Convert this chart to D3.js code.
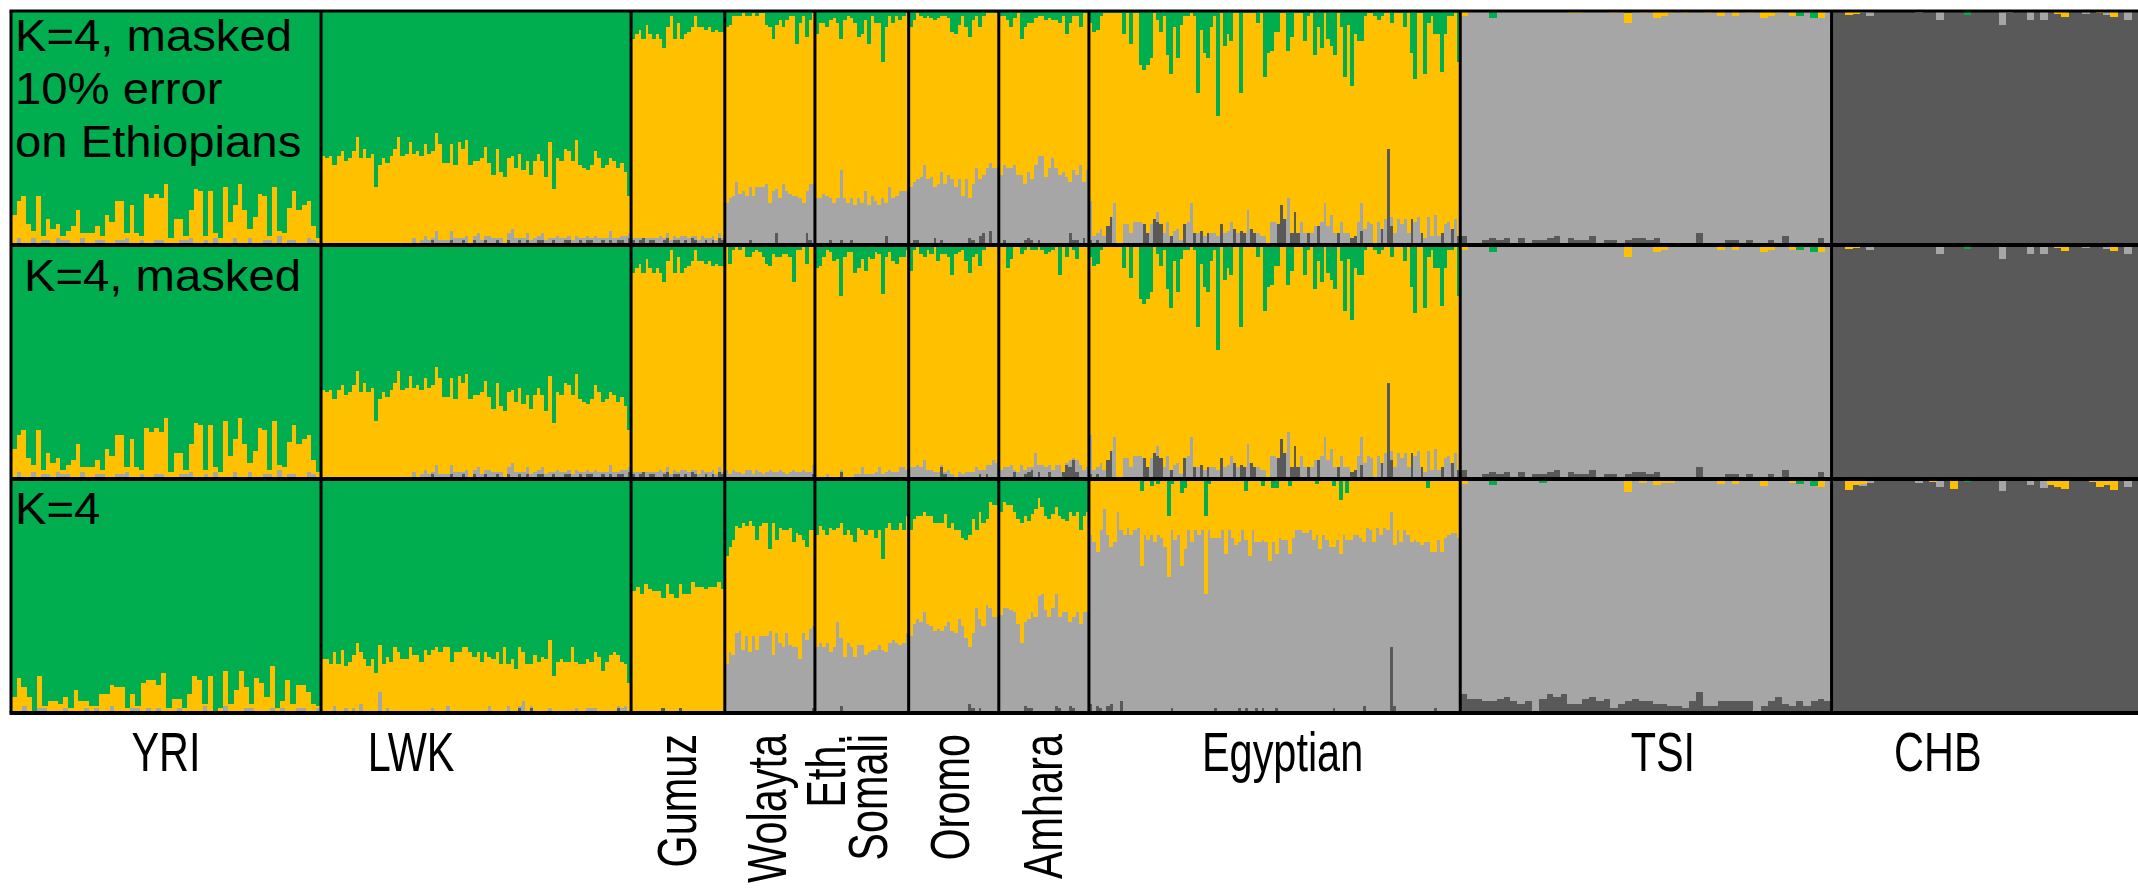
<!DOCTYPE html>
<html>
<head>
<meta charset="utf-8">
<script src="https://d3js.org/d3.v7.min.js"></script>
<style>
body { margin: 0; background: #fff; }
svg { display: block; }
text { font-family: "Liberation Sans", Arial, Helvetica, sans-serif; fill: #000; }
</style>
</head>
<body>
<svg id="chart"></svg>
<script>
// populations, sample sizes (set the width of each block) and row titles
var popNames = ["YRI", "LWK", "Gumuz", "Wolayta", "Eth.|Somali", "Oromo", "Amhara", "Egyptian", "TSI", "CHB"];
var popSizes = [86, 86, 26, 25, 26, 25, 25, 103, 103, 85];
var rotatedPops = [false, false, true, true, true, true, true, false, false, false];
var rowTitles = [["K=4, masked", "10% error", "on Ethiopians"], ["K=4, masked"], ["K=4"]];

// ancestry proportions in percent, one value per plotted individual
// rows 1+2 share values where the two runs look identical ("12")
var yriOr12 = [12,16,20,9,3,20,2,9,7,6,2,4,8,14,2,4,5,6,2,12,10,17,17,2,16,4,2,21,20,20,18,25,2,10,9,2,12,23,22,2,22,2,2,25,9,14,25,14,4,12,21,19,2,25,2,4,14,21,15,16,16,6,2];
var yriLg12 = [1,2,1,0,2,1,2,1,0,3,1,2,0,1,2,1,0,2,1,1,0,1,2,3,1,0,2,1,0,1,2,1,0,1,2,1,3,1,0,2,1,2,1,0,1,2,1,1,2,0,1,2,1,0,3,1,2,1,0,1,2,2,1];
var yriDg12 = [0,1,0,0,1,0,0,1,0,0,1,0,0,0,1,0,0,0,1,0,0,1,0,0,0,1,0,0,0,1,0,0,1,0,0,1,0,0,1,0,0,1,0,0,0,1,0,0,1,0,0,0,1,0,1,0,0,1,0,0,1,0,0];
var yriOr3 = [6,14,8,6,1,14,1,4,4,3,5,1,9,4,3,2,1,8,7,9,10,11,1,6,1,13,12,13,10,16,1,5,4,1,7,15,13,1,15,1,1,15,3,10,17,9,2,14,12,6,18,1,3,14,3,10,10,9,3,1];
var yriLg3 = [1,1,2,1,0,1,2,1,0,1,2,1,0,1,2,1,1,0,1,2,1,0,1,1,2,0,1,1,2,1,0,1,2,1,0,1,1,2,1,0,1,2,1,0,1,1,2,1,0,1,2,1,1,0,1,2,1,0,1,2];
var yriDg3 = [0,0,1,0,0,1,0,0,1,0,0,0,1,0,0,0,1,0,0,1,0,0,0,1,0,0,1,0,0,0,1,0,0,0,1,0,0,1,0,0,0,1,0,0,0,1,0,0,1,0,0,0,1,0,0,0,1,0,0,0];

var lwkOr12 = [38,37,38,34,38,40,36,37,40,46,37,41,37,39,25,34,37,35,38,41,46,38,38,43,36,39,36,39,37,37,42,41,33,33,37,31,41,38,41,33,32,31,35,38,31,27,38,28,28,32,31,30,36,29,31,28,33,35,31,27,41,21,33,33,38,36,34,41,31,30,28,31,36,34,30,31,31,33,30,31,27,16];
var lwkLg12 = [0,0,0,0,0,0,0,0,0,0,0,0,0,0,0,0,0,0,0,0,0,0,1,1,2,1,1,3,2,1,5,1,2,1,4,2,2,1,3,1,2,4,1,2,3,2,1,2,1,3,6,2,1,2,3,1,2,2,3,1,2,1,3,2,1,2,1,3,1,2,2,1,3,2,1,2,4,2,1,2,3,2];
var lwkDg12 = [0,0,0,0,0,0,0,0,0,0,0,0,0,0,0,0,0,0,0,0,0,0,0,0,1,0,1,1,0,2,1,1,0,1,2,1,1,2,1,0,2,1,1,2,1,1,2,1,0,2,1,1,2,1,2,1,1,2,2,1,1,2,1,1,2,2,1,1,2,1,2,2,1,1,2,1,2,1,2,2,1,3];
var lwkOr3 = [23,22,21,23,20,26,18,22,23,30,22,22,20,22,16,20,20,22,22,27,26,22,23,27,25,24,22,26,25,25,27,26,27,25,21,26,25,27,27,26,23,25,22,25,21,22,26,20,27,18,22,19,25,21,20,18,25,21,23,22,29,15,22,22,21,21,27,20,20,21,21,20,24,23,17,22,24,25,22,20,18,12];
var lwkLg3 = [0,1,0,3,0,1,2,0,1,0,4,1,0,1,0,8,1,2,0,1,0,1,0,1,0,1,0,1,0,1,1,0,1,3,1,0,1,1,1,0,1,1,0,1,3,1,0,1,1,3,1,0,1,4,1,1,0,1,1,1,2,1,0,1,1,1,1,2,1,0,1,1,2,1,1,0,1,1,1,1,3,1];
var lwkDg3 = [0,0,0,0,1,0,0,0,1,0,0,0,0,0,1,1,0,0,0,0,0,0,0,0,0,0,0,0,0,1,0,0,0,0,0,0,0,0,0,0,0,0,0,0,0,0,0,0,0,0,0,0,2,1,0,2,0,0,0,0,0,0,0,0,0,0,0,0,0,0,1,1,0,0,0,0,0,0,2,1,0,0];

var gumGr12 = [12,10,8,12,6,10,12,10,12,16,7,2,12,5,12,10,9,7,2,7,7,8,7,9,8,9,9];
var gumLg12 = [1,2,1,0,2,1,1,2,3,1,2,1,2,1,3,2,2,1,2,1,3,1,2,2,1,2,1];
var gumDg12 = [2,1,2,3,1,2,2,1,1,2,3,1,2,2,1,2,1,3,2,1,1,2,1,2,1,3,2];
var gumOr3 = [51,54,50,55,53,51,52,47,55,50,49,53,50,51,56,53,54,53,53,54,55,53];
var gumDg3 = [1,0,1,0,0,1,0,2,0,1,0,2,1,0,0,1,0,0,1,0,1,0];

var wolGr1 = [7,6,2,2,2,1,2,2,1,2,1,1,6,7,12,6,4,7,4,2,2,14,5,2,11,4,1];
var wolLg1 = [18,20,21,27,22,23,21,23,21,25,25,25,26,18,23,19,20,26,23,22,21,21,20,18,18,24,26];
var wolDg1 = [0,0,0,0,0,0,0,2,0,0,0,0,0,0,0,5,0,0,0,0,0,0,0,0,5,2,0];
var wolGr2 = [1,8,2,1,2,1,5,5,3,2,3,5,8,9,4,5,5,4,4,5,16,2,2,1,8,0,0];
var wolLg2 = [3,2,4,2,3,2,4,3,2,4,3,2,3,4,2,3,4,3,2,3,4,3,2,4,3,2,4];
var wolDg2 = [1,0,0,1,0,0,0,1,0,0,0,0,0,0,1,0,0,0,0,0,0,0,1,0,0,1,2];
var wolGr3 = [33,29,26,20,21,19,20,18,20,26,20,19,19,30,19,26,21,22,22,21,27,23,24,26,29,22,22];
var wolLg3 = [21,26,25,34,35,27,33,26,33,26,33,33,33,35,25,33,30,28,33,29,28,28,23,34,31,35,35];
var wolDg3 = [0,0,0,0,0,0,0,0,0,1,0,0,0,0,0,1,0,0,1,0,0,0,0,0,0,1,2];

var somGr1 = [10,5,5,7,4,3,5,12,4,2,3,5,11,10,4,14,2,5,5,22,7,2,5,2,4,2,1];
var somLg1 = [20,20,22,21,18,18,20,30,20,18,18,17,20,18,23,17,21,19,17,20,14,25,20,21,23,23,23];
var somDg1 = [0,0,0,0,2,0,0,2,0,0,2,0,0,0,0,0,0,0,0,0,4,0,0,0,0,0,0];
var somGr2 = [10,9,5,2,3,7,6,22,5,3,3,12,10,6,11,5,6,3,4,21,5,3,7,8,5,5,2];
var somLg2 = [1,1,1,2,1,1,1,1,1,1,1,1,2,5,2,2,2,3,5,2,3,4,3,3,5,5,4];
var somDg2 = [0,0,0,0,0,0,0,3,0,0,0,1,0,0,0,0,0,0,0,0,0,0,0,0,0,0,0];
var somGr3 = [24,20,22,24,21,22,21,19,24,22,24,27,21,22,24,22,22,25,22,34,21,19,22,22,19,22,16];
var somLg3 = [28,30,28,30,26,28,39,29,24,30,28,24,29,29,25,26,27,26,28,27,26,30,31,30,29,30,34];
var somDg3 = [0,0,0,0,0,0,0,3,0,0,0,0,0,0,0,0,0,1,1,0,0,0,0,0,0,0,0];

var oroGr1 = [7,4,1,2,3,2,3,4,3,2,2,3,9,10,6,2,7,11,4,2,7,2,1,1,1,1];
var oroLg1 = [25,25,26,29,34,28,29,22,26,29,26,30,28,25,28,21,28,17,24,33,24,25,33,29,32,33];
var oroDg1 = [0,2,2,0,0,0,0,3,0,2,0,0,0,0,0,0,0,3,2,0,4,5,0,6,1,0];
var oroGr2 = [11,2,1,4,5,2,4,0,7,4,4,5,13,4,3,2,7,12,5,4,9,2,1,1,1,1];
var oroLg2 = [5,5,6,5,8,4,4,3,3,1,1,4,2,1,3,2,3,3,3,5,2,4,4,6,8,7];
var oroDg2 = [0,0,0,0,0,0,0,0,0,5,2,0,0,0,0,0,0,0,0,0,2,0,2,0,0,0];
var oroGr3 = [22,17,16,16,14,16,16,19,19,19,15,21,19,22,22,25,26,24,17,22,14,19,17,10,11,11];
var oroLg3 = [33,38,40,39,43,38,37,35,36,35,37,39,35,34,40,37,32,24,32,45,38,37,46,45,41,41];
var oroDg3 = [0,0,0,0,0,0,0,0,0,0,0,0,0,0,0,0,0,4,2,0,2,0,0,0,0,0];

var amhGr1 = [2,2,4,7,3,1,12,7,5,5,3,2,2,4,3,4,4,5,2,10,5,2,2,7,1,1];
var amhLg1 = [30,32,33,33,34,30,30,24,28,26,34,36,37,29,33,37,33,30,31,29,22,30,28,34,24,32];
var amhDg1 = [0,2,0,0,0,0,0,2,3,2,0,2,1,0,0,0,0,0,0,0,5,2,2,0,3,0];
var amhGr2 = [0,0,10,6,1,1,4,2,1,2,2,1,2,4,3,2,1,13,1,5,1,2,6,0,0,0];
var amhLg2 = [4,5,5,6,1,3,6,2,2,1,11,3,6,5,3,4,6,6,0,1,3,1,5,6,4,5];
var amhDg2 = [0,0,0,0,3,0,0,2,3,4,0,3,0,0,3,0,0,0,3,6,5,8,3,0,0,0];
var amhGr3 = [14,10,11,11,14,17,19,16,18,15,13,8,12,16,17,15,12,16,17,18,14,16,14,22,16,14];
var amhLg3 = [42,45,45,44,43,38,30,36,38,41,40,49,51,44,41,45,48,39,43,43,36,39,42,38,43,43];
var amhDg3 = [0,0,0,0,0,0,0,3,2,2,1,1,0,0,0,0,3,2,0,0,3,2,1,0,0,0];

var egyGr12 = [5,9,8,2,1,1,1,1,1,1,10,1,14,1,1,23,25,23,20,1,4,9,2,19,27,7,20,6,2,2,1,2,35,8,18,20,7,2,45,1,15,10,13,1,1,35,1,1,1,1,5,1,28,18,17,9,9,1,1,17,11,1,1,1,13,2,1,19,7,16,1,12,15,19,1,7,28,6,32,10,13,13,2,1,1,2,4,2,1,1,5,1,1,1,7,1,18,29,1,1,27,5,2,10,10,26,10,2,2,1,22];
var egyLg12 = [17,4,3,7,4,0,0,18,1,0,9,9,5,10,10,10,0,0,9,0,4,0,5,10,0,6,7,2,0,10,18,0,5,0,4,0,5,5,4,0,5,6,10,0,5,0,0,15,0,0,5,4,4,0,10,10,0,0,0,20,0,0,0,10,5,0,5,8,0,10,18,8,13,5,0,10,5,5,0,0,10,12,7,10,9,0,10,0,11,0,4,5,11,9,11,5,0,10,12,0,3,12,4,13,4,0,9,10,0,11,0];
var egyDg12 = [2,0,2,0,0,8,12,0,0,0,0,0,0,0,0,0,9,5,0,11,10,9,0,0,4,0,0,0,9,0,0,5,0,6,0,5,0,0,0,9,0,0,0,7,0,6,5,0,7,5,0,0,0,0,0,0,9,17,11,0,5,14,5,0,0,5,0,0,8,0,0,0,0,0,5,0,0,0,3,4,0,6,0,0,0,1,0,7,0,41,8,0,0,0,0,0,11,0,0,5,0,0,0,0,0,5,0,0,7,0,4];
var egyGr3 = [1,1,1,1,1,1,1,1,1,1,1,1,1,1,1,5,1,1,3,1,2,1,1,16,2,1,1,6,4,1,1,1,1,1,16,2,1,1,1,1,1,1,1,1,1,1,5,1,1,1,1,3,1,1,4,4,1,1,1,3,1,1,1,1,1,1,1,2,1,1,1,1,3,1,9,1,6,1,1,1,1,1,1,1,1,1,1,1,1,1,1,1,1,1,1,1,1,1,1,1,4,1,1,1,1,1,1,1,1,1];
var egyLg3 = [72,73,66,76,87,73,67,73,86,73,76,79,76,78,79,63,76,74,75,72,76,75,71,58,76,74,76,63,70,78,72,77,76,78,51,78,75,73,75,78,68,78,75,72,71,78,72,67,78,71,73,72,73,65,73,66,75,74,74,68,75,78,78,77,77,78,74,76,70,76,74,71,69,74,68,76,74,74,76,76,75,70,79,78,73,79,76,79,78,58,69,78,73,78,76,73,74,73,72,73,73,69,67,74,69,74,76,77,77,75];
var egyDg3 = [4,0,3,2,0,3,4,0,0,5,0,0,0,0,0,0,0,0,1,1,0,0,0,0,2,0,0,0,0,0,1,1,0,0,0,0,0,2,0,0,0,0,0,0,2,0,2,0,0,2,0,2,0,0,0,2,0,0,0,0,0,0,0,0,0,0,0,0,0,0,0,0,2,0,0,0,0,0,0,0,0,3,0,0,0,0,0,0,0,28,3,0,0,0,0,0,0,0,0,0,0,0,2,0,0,1,0,0,0,0];

var tsiDg12 = [4,1,0,2,3,2,3,0,3,1,2,2,3,4,0,3,2,2,4,1,2,2,1,2,3,3,2,3,1,1,0,0,0,5,0,0,1,2,2,1,2,0,0,2,0,4,0,1,0,1,3,1];
var tsiOr12 = [2,0,0,0,0,0,0,0,0,0,0,0,0,0,0,1,1,0,0,0,0,1,0,4,0,1,0,3,2,1,0,1,0,0,1,0,2,0,2,0,1,0,3,2,1,0,2,0,0,0,3,0];
var tsiGr12 = [0,0,0,0,3,0,0,0,0,0,0,0,0,0,0,0,0,0,0,0,0,0,0,1,0,0,0,0,0,0,0,0,0,0,0,0,0,0,0,0,0,0,0,0,0,0,0,2,0,3,0,0];
var tsiDg3 = [8,6,6,5,5,6,7,5,4,5,1,6,8,7,8,4,4,6,7,5,6,2,4,5,6,5,5,4,4,3,3,2,5,9,3,3,5,5,5,5,5,1,3,5,7,4,3,5,3,5,6,5];
var tsiOr3 = [2,0,0,0,0,0,0,0,0,0,0,0,0,0,0,1,1,0,0,0,0,1,0,4.5,0,1.5,0,2.5,1.5,1.5,0,1,0,0,0,1,2,0,2,0,0,0,3,0,1,0,1.5,0,0,0,3.5,0];
var tsiGr3 = [0,0,0,0,2.5,0,0,1,0,0,0,1.5,1,0,0,0,0,0,0,0,0,0,0,1,0,0,0,0,0,0,0,0,0,0,1,0,0,0,0,1,1,0,0,1,0,0,0,2,0,3,0,0];

var chbLg12 = [0,0,0,0,1,2,0,0,0,0,0,0,1,0,0,4,0,0.6,0,0,0,0,0,0,6,1,0,0,3.7,0,4,0,0,0,0,0,1.3,0,0,1.7,0,0,4,0];
var chbOr12 = [0,0,1.7,1.3,0,0,0,0,0,0,0,0,0,0,0,0,0,0,0,0,0,0,0,0,0,0,0,0,0,0,0,0,1.4,2.7,0,0,0,0,1,0,2.4,0,0,0];
var chbGr12 = [0,0,0,0,0,0,0,0,0,0,0,0,0,0,0,0,0,0,0,1.7,0,0,0,0,0,0,0,0,0,0,0,0,0,0,0,0,0,0,0,0,0,0,0,0];
var chbLg3 = [0,0,0,0,1,1.5,0,0,0,0,0,0,1.5,0,0,3.5,0,0,0,0,0,0,0,0,5,0,0,0,2.6,0,4,0,0,0,0,0,0,0,0,0,0,0,3.5,0];
var chbOr3 = [0,0,4.7,2.7,2,0,0,0,0,0,0,0.7,0,0,1.4,0,0.5,4.3,0,0,0,0,0,0,0,0,0,0,0,0,0,2.5,3.5,4.2,0,0,0,1.2,3.3,2.5,4.5,0,0,0];
var chbGr3 = [0,0,0,0,0,0,0,0,0,0,0,0,0,0,0,0,0,0,0,1.2,0,0,0,0,0,0,0,0,0,0,0,0,0,0,0,0,0,0,0,0,0,0,0,0];

// layout
var width = 2138, height = 893;
var left = 11, right = 2138, top0 = 11, rowH = 234;
var colors = ["#595959", "#a6a6a6", "#ffc000", "#00ad4f"]; // dark gray, light gray, orange, green (bottom to top)
var labelShift = [0, -65, -2, -3, -15, -4, -1, 8, 17, -47];
var R = null; // component that takes what is left of 100

// one individual = [darkgray, lightgray, orange, green]
function build(dg, lg, or, gr){
    var parts = [dg, lg, or, gr];
    var n = d3.max(parts, function(p){ return p ? p.length : 0; });
    var rest = parts.indexOf(null);
    return d3.range(n).map(function(i){
        var v = parts.map(function(p){ return p ? (p[i] || 0) : 0; });
        v[rest] = Math.max(0, 100 - d3.sum(v));
        return v;
    });
}

var rows = [
    [build(yriDg12, yriLg12, yriOr12, R), build(lwkDg12, lwkLg12, lwkOr12, R), build(gumDg12, gumLg12, R, gumGr12),
     build(wolDg1, wolLg1, R, wolGr1), build(somDg1, somLg1, R, somGr1), build(oroDg1, oroLg1, R, oroGr1), build(amhDg1, amhLg1, R, amhGr1),
     build(egyDg12, egyLg12, R, egyGr12), build(tsiDg12, R, tsiOr12, tsiGr12), build(R, chbLg12, chbOr12, chbGr12)],
    [build(yriDg12, yriLg12, yriOr12, R), build(lwkDg12, lwkLg12, lwkOr12, R), build(gumDg12, gumLg12, R, gumGr12),
     build(wolDg2, wolLg2, R, wolGr2), build(somDg2, somLg2, R, somGr2), build(oroDg2, oroLg2, R, oroGr2), build(amhDg2, amhLg2, R, amhGr2),
     build(egyDg12, egyLg12, R, egyGr12), build(tsiDg12, R, tsiOr12, tsiGr12), build(R, chbLg12, chbOr12, chbGr12)],
    [build(yriDg3, yriLg3, yriOr3, R), build(lwkDg3, lwkLg3, lwkOr3, R), build(gumDg3, [], gumOr3, R),
     build(wolDg3, wolLg3, R, wolGr3), build(somDg3, somLg3, R, somGr3), build(oroDg3, oroLg3, R, oroGr3), build(amhDg3, amhLg3, R, amhGr3),
     build(egyDg3, egyLg3, R, egyGr3), build(tsiDg3, R, tsiOr3, tsiGr3), build(R, chbLg3, chbOr3, chbGr3)]
];

var svg = d3.select("#chart").attr("width", width).attr("height", height);
svg.append("rect").attr("width", width).attr("height", height).attr("fill", "#fff");

var starts = d3.cumsum([0].concat(popSizes));
starts = [0].concat(Array.from(starts).slice(1));
var x = d3.scaleLinear().domain([0, d3.sum(popSizes)]).range([left, right]);
var stack = d3.stack().keys([0, 1, 2, 3]);

rows.forEach(function(row, r){
    var y = d3.scaleLinear().domain([0, 100]).range([top0 + (r + 1) * rowH, top0 + r * rowH]).clamp(true);
    var g = svg.append("g").attr("class", "row" + r);
    row.forEach(function(inds, p){
        var band = d3.scaleBand().domain(d3.range(inds.length))
            .range([x(starts[p]), x(starts[p] + popSizes[p])]);
        stack(inds).forEach(function(layer, k){
            g.selectAll(".c" + p + "_" + k)
                .data(layer)
                .enter().append("rect")
                .attr("x", function(d, i){ return band(i); })
                .attr("width", band.bandwidth() + 0.6)
                .attr("y", function(d){ return y(d[1]); })
                .attr("height", function(d){ return Math.max(0, y(d[0]) - y(d[1])); })
                .attr("fill", colors[k])
                .attr("shape-rendering", "crispEdges");
        });
    });
});

// frame: population dividers, row dividers, outer border
var bottom = top0 + 3 * rowH;
var lines = svg.append("g").attr("stroke", "#000");
starts.slice(1, popSizes.length).forEach(function(s){
    lines.append("line").attr("x1", x(s)).attr("x2", x(s)).attr("y1", top0).attr("y2", bottom).attr("stroke-width", 3);
});
[1, 2].forEach(function(r){
    lines.append("line").attr("x1", left).attr("x2", right).attr("y1", top0 + r * rowH).attr("y2", top0 + r * rowH).attr("stroke-width", 4);
});
lines.append("line").attr("x1", left - 1.5).attr("x2", right).attr("y1", top0).attr("y2", top0).attr("stroke-width", 3);
lines.append("line").attr("x1", left - 1.5).attr("x2", right).attr("y1", bottom).attr("y2", bottom).attr("stroke-width", 4);
lines.append("line").attr("x1", left).attr("x2", left).attr("y1", top0).attr("y2", bottom).attr("stroke-width", 3);

// row titles
var titleX = [15, 24, 15], titleY = [51, 291, 524];
rowTitles.forEach(function(lns, r){
    var t = svg.append("g").attr("transform", "translate(" + titleX[r] + "," + titleY[r] + ") scale(1.05,1)");
    lns.forEach(function(s, i){
        t.append("text").attr("x", 0).attr("y", i * 53).style("font-size", "45px").text(s);
    });
});

// population labels
popNames.forEach(function(name, p){
    var cx = x(starts[p] + popSizes[p] / 2) + labelShift[p];
    var parts = name.split("|");
    if(!rotatedPops[p]){
        svg.append("text")
            .attr("transform", "translate(" + cx + ",771) scale(0.74,1)")
            .attr("text-anchor", "middle")
            .style("font-size", "56px")
            .text(name);
    } else {
        parts.forEach(function(s, i){
            var px = cx + (i - (parts.length - 1) / 2) * 42;
            svg.append("text")
                .attr("transform", "translate(" + px + ",734) rotate(-90) scale(0.74,1)")
                .attr("text-anchor", "end")
                .attr("dy", "0.35em")
                .style("font-size", "56px")
                .text(s);
        });
    }
});
</script>
</body>
</html>
